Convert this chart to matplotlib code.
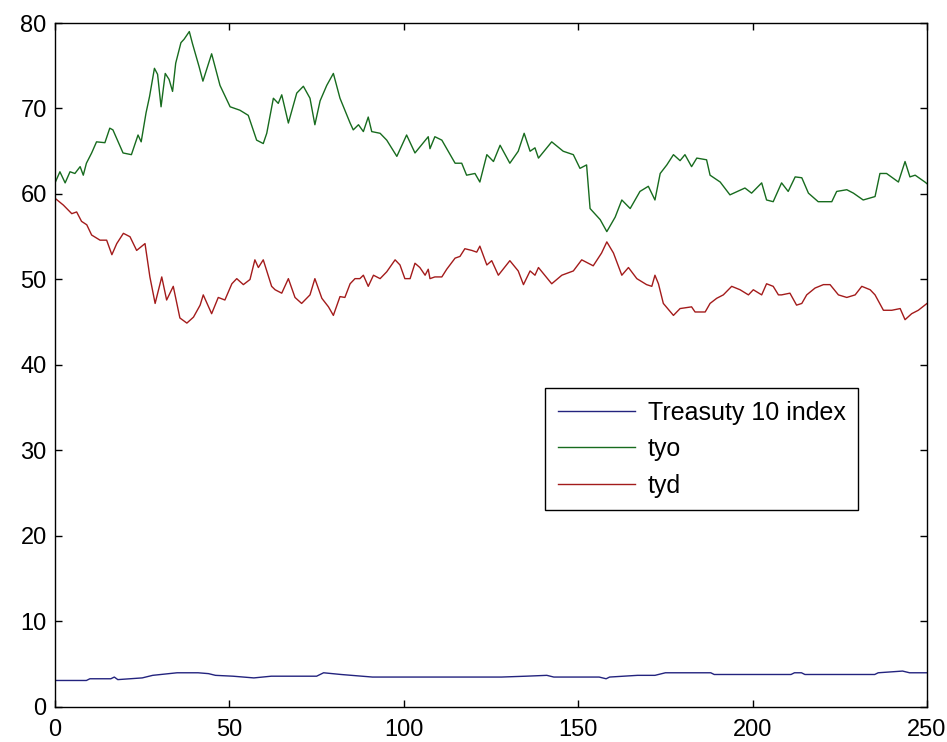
import numpy as np
import matplotlib
matplotlib.use('Agg')
import matplotlib.pyplot as plt

# Treasury 10 index
bx = [0, 9, 10, 16, 17, 18, 25, 28, 35, 41, 44, 46, 51, 57, 62, 75, 77, 82, 91, 128,
      135, 141, 143, 156, 158, 159, 167, 172, 175, 188, 189, 211, 212, 214, 215, 235,
      236, 243, 245, 250]
by = [3.1, 3.1, 3.3, 3.3, 3.5, 3.2, 3.4, 3.7, 4.0, 4.0, 3.9, 3.7, 3.6, 3.4, 3.6, 3.6, 4.0, 3.8, 3.5, 3.5,
      3.6, 3.7, 3.5, 3.5, 3.3, 3.5, 3.7, 3.7, 4.0, 4.0, 3.8, 3.8, 4.0, 4.0, 3.8, 3.8,
      4.0, 4.2, 4.0, 4.0]

# tyo
gx = [0, 1.4, 2.9, 4.3, 5.7, 7.2, 8.1, 9.0, 10.5, 11.9,
      14.3, 15.7, 16.6, 19.5, 21.9, 23.8, 24.7, 26.1, 27.1, 28.5,
      29.4, 30.4, 31.6, 32.7, 33.7, 34.6, 36.1, 37.0, 38.5, 39.4,
      41.3, 42.4, 44.9, 47.3, 50.2, 53.0, 55.4, 57.8, 59.7, 60.7,
      62.6, 64.0, 65.0, 66.9, 69.3, 71.2, 73.1, 74.5, 76.0, 77.9,
      79.8, 81.7, 84.6, 85.5, 87.0, 88.4, 89.8, 90.8, 93.2, 95.1,
      98.0, 100.8, 103.2, 107.0, 107.5, 108.9, 110.9, 114.7, 116.6, 118.0,
      120.4, 121.8, 123.8, 125.7, 127.6, 130.4, 132.8, 134.5, 136.2, 137.6,
      138.6, 142.4, 145.7, 148.6, 150.5, 152.4, 153.4, 156.3, 158.2, 160.6,
      162.5, 164.9, 167.7, 170.1, 172.0, 173.5, 175.4, 177.3, 179.2, 180.6,
      182.5, 184.0, 186.8, 187.8, 190.7, 193.5, 197.8, 199.7, 202.6, 204.0,
      205.9, 208.3, 210.2, 212.2, 214.1, 216.0, 218.8, 222.7, 224.1, 227.0,
      228.9, 231.7, 235.1, 236.5, 238.4, 241.8, 243.7, 245.1, 246.6, 249.4,
      250]
gy = [61.3, 62.6, 61.3, 62.6, 62.4, 63.2, 62.2, 63.6, 64.8, 66.1,
      66.0, 67.7, 67.5, 64.8, 64.6, 66.9, 66.1, 69.5, 71.4, 74.7,
      74.0, 70.2, 74.1, 73.4, 72.0, 75.3, 77.7, 78.1, 79.0, 77.6,
      74.9, 73.2, 76.4, 72.7, 70.2, 69.8, 69.2, 66.3, 65.9, 67.1,
      71.2, 70.6, 71.6, 68.3, 71.8, 72.6, 71.2, 68.1, 70.9, 72.7,
      74.1, 71.2, 68.3, 67.5, 68.1, 67.3, 69.0, 67.3, 67.1, 66.3,
      64.4, 66.9, 64.8, 66.7, 65.3, 66.7, 66.3, 63.6, 63.6, 62.2,
      62.4, 61.4, 64.6, 63.8, 65.7, 63.6, 65.0, 67.1, 65.0, 65.4,
      64.2, 66.1, 65.0, 64.6, 63.0, 63.4, 58.3, 57.0, 55.6, 57.3,
      59.3, 58.3, 60.3, 60.9, 59.3, 62.4, 63.4, 64.6, 63.9, 64.6,
      63.2, 64.2, 64.0, 62.2, 61.4, 59.9, 60.7, 60.1, 61.3, 59.3,
      59.1, 61.3, 60.3, 62.0, 61.9, 60.1, 59.1, 59.1, 60.3, 60.5,
      60.1, 59.3, 59.7, 62.4, 62.4, 61.4, 63.8, 62.0, 62.2, 61.4,
      61.2]

# tyd
rx = [0, 2.4, 4.8, 6.2, 7.6, 9.1, 10.5, 12.9, 14.8, 16.3,
      17.7, 19.6, 21.5, 23.4, 25.8, 27.2, 28.7, 30.6, 32.0, 33.9,
      35.8, 37.8, 39.7, 41.6, 42.5, 44.9, 46.8, 48.7, 50.7, 52.1,
      54.0, 55.9, 57.3, 58.3, 59.7, 62.1, 63.1, 65.0, 66.9, 68.8,
      70.7, 73.1, 74.5, 76.5, 78.4, 79.8, 81.7, 83.1, 84.6, 86.0,
      87.4, 88.4, 89.8, 91.3, 93.2, 95.1, 97.5, 98.9, 100.3, 101.8,
      103.2, 104.6, 106.1, 107.0, 107.5, 108.9, 110.9, 112.3, 114.7, 116.1,
      117.5, 119.5, 120.9, 121.8, 123.8, 125.2, 127.1, 130.4, 132.8, 134.3,
      136.2, 137.6, 138.6, 142.4, 145.3, 148.6, 151.0, 154.3, 156.7, 158.2,
      160.1, 162.5, 164.4, 166.8, 169.6, 171.1, 172.0, 173.0, 174.4, 177.3,
      179.2, 182.5, 183.5, 186.4, 187.8, 189.7, 191.6, 194.0, 196.4, 198.8,
      200.2, 202.6, 204.0, 205.9, 207.4, 208.3, 210.7, 212.6, 214.1, 215.5,
      217.9, 220.3, 222.2, 224.6, 227.0, 229.4, 231.3, 233.7, 235.1, 237.5,
      239.9, 242.3, 243.7, 245.6, 247.5, 250]
ry = [59.5, 58.7, 57.7, 57.9, 56.8, 56.4, 55.2, 54.6, 54.6, 52.9,
      54.2, 55.4, 55.0, 53.4, 54.2, 50.3, 47.2, 50.3, 47.6, 49.2,
      45.5, 44.9, 45.6, 47.0, 48.2, 46.0, 47.9, 47.6, 49.5, 50.1,
      49.4, 50.0, 52.3, 51.4, 52.3, 49.2, 48.8, 48.4, 50.1, 47.9,
      47.2, 48.2, 50.1, 47.8, 46.8, 45.8, 48.0, 47.9, 49.5, 50.1,
      50.1, 50.5, 49.2, 50.5, 50.1, 50.9, 52.3, 51.7, 50.1, 50.1,
      51.9, 51.4, 50.5, 51.2, 50.1, 50.3, 50.3, 51.2, 52.5, 52.7,
      53.6, 53.4, 53.2, 53.9, 51.7, 52.2, 50.5, 52.2, 51.0, 49.4,
      51.0, 50.5, 51.4, 49.5, 50.5, 51.0, 52.3, 51.6, 53.1, 54.4,
      53.1, 50.5, 51.4, 50.1, 49.4, 49.2, 50.5, 49.5, 47.2, 45.8,
      46.6, 46.8, 46.2, 46.2, 47.2, 47.8, 48.2, 49.2, 48.8, 48.2,
      48.8, 48.2, 49.5, 49.2, 48.2, 48.2, 48.4, 47.0, 47.2, 48.2,
      49.0, 49.4, 49.4, 48.2, 47.9, 48.2, 49.2, 48.8, 48.2, 46.4,
      46.4, 46.6, 45.3, 46.0, 46.4, 47.2]

labels = ['Treasuty 10 index', 'tyo', 'tyd']

plt.rcParams['font.family'] = ['Liberation Sans', 'DejaVu Sans']
plt.rcParams['font.size'] = 17

fig = plt.figure(figsize=(9.47, 7.42), dpi=100)
ax = fig.add_axes([0.0581, 0.0472, 0.9208, 0.9218])

ax.plot(bx, by, color='#23237e', lw=1.0, label=labels[0])
ax.plot(gx, gy, color='#176b1e', lw=1.0, label=labels[1])
ax.plot(rx, ry, color='#a31b1b', lw=1.0, label=labels[2])

ax.set_xlim(0, 250)
ax.set_ylim(0, 80)
ax.set_xticks(np.arange(0, 251, 50))
ax.set_yticks(np.arange(0, 81, 10))
ax.tick_params(direction='in', length=5, width=1, top=True, right=True)
ax.tick_params(axis='x', pad=9)
ax.tick_params(axis='y', pad=6)
for s in ax.spines.values():
    s.set_linewidth(1.0)

leg = ax.legend(loc='upper left', bbox_to_anchor=(0.562, 0.466), fancybox=False,
                edgecolor='black', framealpha=1, fontsize=18, handlelength=3.1,
                handletextpad=0.5, labelspacing=0.5, borderpad=0.5, borderaxespad=0)
leg.get_frame().set_linewidth(1.0)

fig.savefig('out.png', dpi=100)
